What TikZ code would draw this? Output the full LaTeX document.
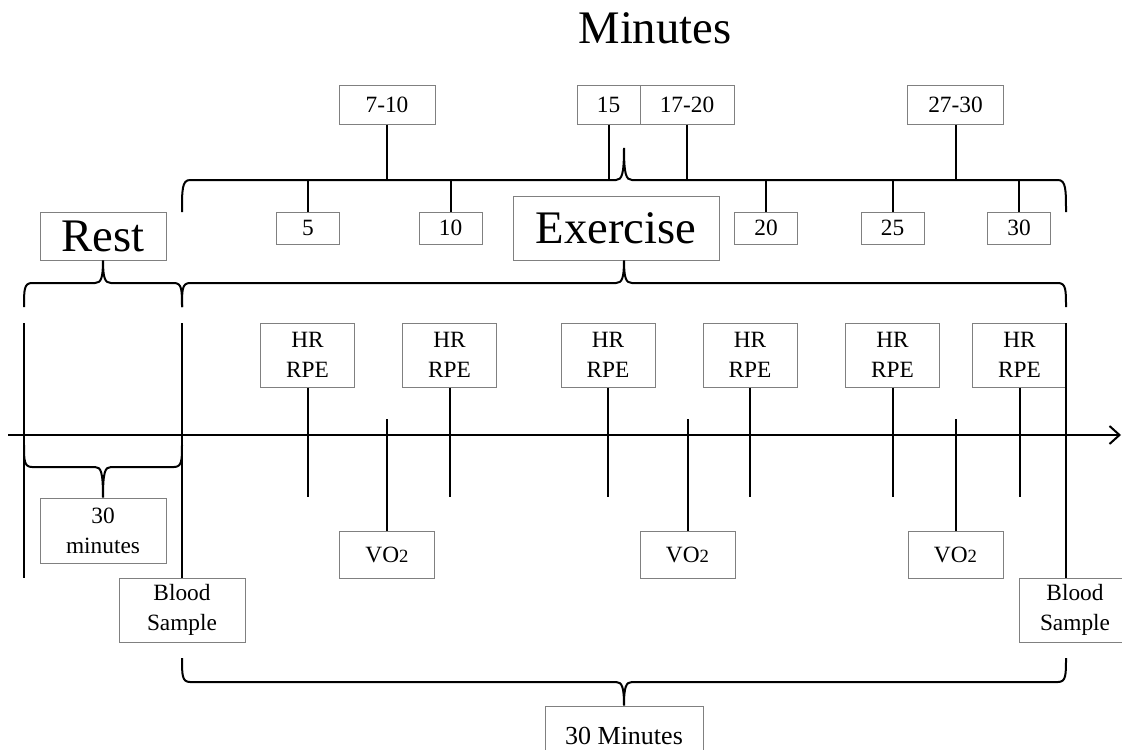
\documentclass[tikz,border=0pt]{standalone}
\usepackage{fontspec}
\setmainfont{Liberation Serif}
\usetikzlibrary{arrows.meta}

\tikzset{
  box/.style={draw=black!50, line width=0.75pt, inner sep=0pt, align=center,
    font=\fontsize{17.5}{22.5}\selectfont},
  bigbox/.style={box, font=\fontsize{35}{40}\selectfont},
  numbox/.style={box, minimum width=47.25pt, minimum height=24pt},
  rangebox/.style={box, minimum width=72pt, minimum height=29.25pt},
  hrbox/.style={box, minimum width=70.5pt, minimum height=48pt},
  vobox/.style={box, minimum width=71.25pt, minimum height=35.25pt},
  bloodbox/.style={box, minimum width=94.5pt, minimum height=48pt},
  tick/.style={line width=1.5pt},
  brace/.style={line width=1.5pt},
}

\begin{document}
\begin{tikzpicture}[x=0.75pt,y=-0.75pt]
  \useasboundingbox (0,0) rectangle (1122,750);
  \clip (0,0) rectangle (1122,750);

  % title
  \node[font=\fontsize{35}{40}\selectfont] (title) at (655,28) {Minutes};

  % minute boxes above the exercise
  \node[rangebox] (r7) at (387,104.5) {7-10};
  \node[rangebox, minimum width=47.25pt] (r15) at (608.5,104.5) {15};
  \node[rangebox, minimum width=70.5pt] (r17) at (687,104.5) {17-20};
  \node[rangebox] (r27) at (955.5,104.5) {27-30};

  \node[numbox] (m5) at (308,228) {5};
  \node[numbox] (m10) at (450.5,228) {10};
  \node[numbox] (m20) at (766,228) {20};
  \node[numbox] (m25) at (892.5,228) {25};
  \node[numbox] (m30) at (1019,228) {30};

  \node[bigbox, minimum width=94.5pt, minimum height=36pt] (rest) at (103,236) {Rest};
  \node[bigbox, minimum width=154.5pt, minimum height=48pt] (exercise) at (616,228) {Exercise};

  % measurements
  \node[hrbox] (hr1) at (307.5,355) {HR\\RPE};
  \node[hrbox] (hr2) at (449.5,355) {HR\\RPE};
  \node[hrbox] (hr3) at (608,355) {HR\\RPE};
  \node[hrbox] (hr4) at (750,355) {HR\\RPE};
  \node[hrbox] (hr5) at (892.5,355) {HR\\RPE};
  \node[hrbox] (hr6) at (1019.5,355) {HR\\RPE};

  \node[vobox] (vo1) at (387,554.5) {VO{\fontsize{14}{16}\selectfont 2}};
  \node[vobox] (vo2) at (687.5,554.5) {VO{\fontsize{14}{16}\selectfont 2}};
  \node[vobox] (vo3) at (955.5,554.5) {VO{\fontsize{14}{16}\selectfont 2}};

  \node[bloodbox, minimum height=48.75pt] (thirty) at (103,530.5) {30\\minutes};
  \node[bloodbox] (blood1) at (182,610) {Blood\\Sample};
  \node[bloodbox, minimum width=84pt] (blood2) at (1075,610) {Blood\\Sample};
  \node[box, font=\fontsize{19.5}{22}\selectfont, minimum width=118.5pt, minimum height=45pt] (total) at (624,736) {30 Minutes};

  \coordinate (topbar) at (0,180);
  \coordinate (linetop) at (0,323);
  \coordinate (hrend) at (0,497);
  \coordinate (votop) at (0,419);
  \coordinate (restL) at (24,323);
  \coordinate (exR) at (1066,323);

  % time axis
  \draw[line width=1.5pt, -{Straight Barb[length=7.5pt,width=13.5pt]}] (8,435) -- (1121,435);

  % braces
  \draw[brace] (182,212) .. controls (182,190) and (182,180) .. (190,180) -- (616,180)
    .. controls (622,180) and (624,174) .. (624,148) .. controls (624,174) and (626,180) .. (632,180)
    -- (1058,180) .. controls (1066,180) and (1066,190) .. (1066,212);
  \draw[brace] (182,307) .. controls (182,290) and (182,283) .. (190,283) -- (616,283)
    .. controls (622,283) and (624,278) .. (624,0 |- exercise.south) .. controls (624,278) and (626,283) .. (632,283)
    -- (1058,283) .. controls (1066,283) and (1066,290) .. (1066,307);
  \draw[brace] (24,307) .. controls (24,290) and (24,283) .. (32,283) -- (95,283)
    .. controls (101,283) and (103,278) .. (rest.south) .. controls (103,278) and (105,283) .. (111,283)
    -- (174,283) .. controls (182,283) and (182,290) .. (182,307);
  \draw[brace] (24,445) .. controls (24,460) and (24,467) .. (32,467) -- (95,467)
    .. controls (101,467) and (103,472) .. (thirty.north) .. controls (103,472) and (105,467) .. (111,467)
    -- (174,467) .. controls (182,467) and (182,460) .. (182,445);
  \draw[brace] (182,658) .. controls (182,675) and (182,682) .. (190,682) -- (616,682)
    .. controls (622,682) and (624,687) .. (total.north) .. controls (624,687) and (626,682) .. (632,682)
    -- (1058,682) .. controls (1066,682) and (1066,675) .. (1066,658);

  % connectors
  \draw[tick] (r7.south) -- (r7.south |- topbar);
  \draw[tick] (r15.south) -- (r15.south |- topbar);
  \draw[tick] (r17.south) -- (r17.south |- topbar);
  \draw[tick] (r27.south) -- (r27.south |- topbar);
  \draw[tick] (m5.north) -- (m5.north |- topbar);
  \draw[tick] (m10.north) -- (m10.north |- topbar);
  \draw[tick] (m20.north) -- (m20.north |- topbar);
  \draw[tick] (m25.north) -- (m25.north |- topbar);
  \draw[tick] (m30.north) -- (m30.north |- topbar);

  \draw[tick] (hr1.south) -- (hr1.south |- hrend);
  \draw[tick] (hr2.south) -- (hr2.south |- hrend);
  \draw[tick] (hr3.south) -- (hr3.south |- hrend);
  \draw[tick] (hr4.south) -- (hr4.south |- hrend);
  \draw[tick] (hr5.south) -- (hr5.south |- hrend);
  \draw[tick] (hr6.south) -- (hr6.south |- hrend);

  \draw[tick] (vo1.north) -- (vo1.north |- votop);
  \draw[tick] (vo2.north) -- (vo2.north |- votop);
  \draw[tick] (vo3.north) -- (vo3.north |- votop);

  \draw[tick] (restL) -- ++(0,255);
  \draw[tick] (blood1.north) -- (blood1.north |- linetop);
  \draw[tick] (exR) -- (exR |- blood2.north);
\end{tikzpicture}
\end{document}
